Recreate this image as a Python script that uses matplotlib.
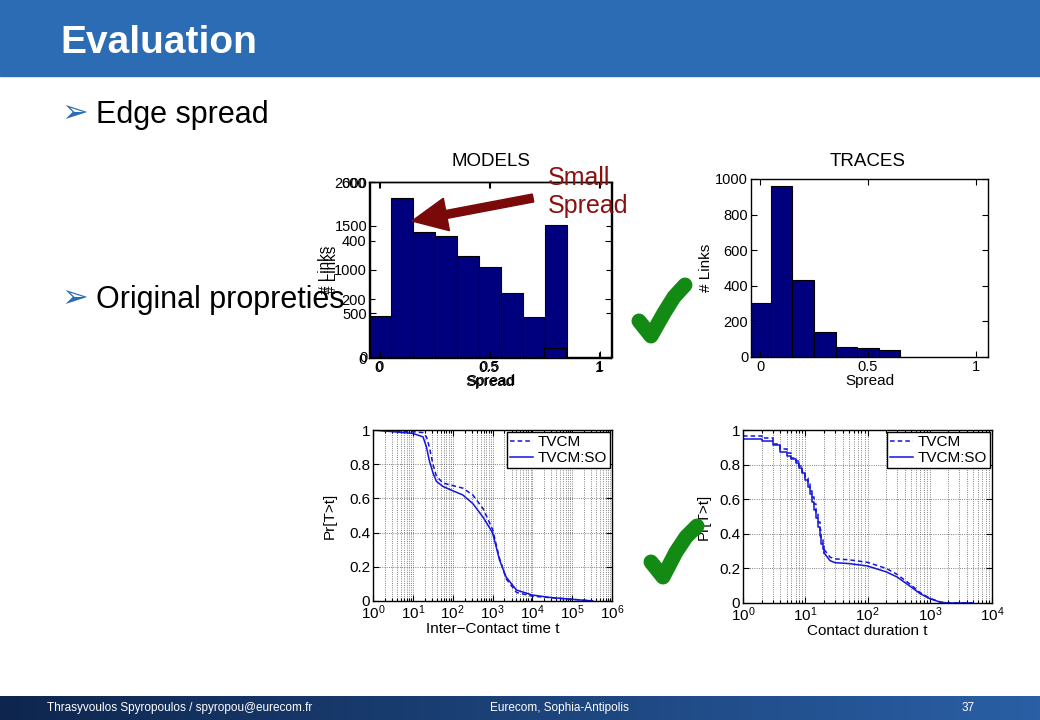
import matplotlib
matplotlib.use('Agg')
import matplotlib.pyplot as plt
import numpy as np
from matplotlib.patches import Rectangle, FancyArrow
from matplotlib.lines import Line2D
from matplotlib.ticker import LogLocator, NullFormatter

plt.rcParams['font.family'] = ['Liberation Sans', 'DejaVu Sans']
plt.rcParams['mathtext.default'] = 'regular'

# edge spread histograms (bin centres, counts)
model_bins = [0.0, 0.1, 0.2, 0.3, 0.4, 0.5, 0.6, 0.7, 0.8]
model_links = [470, 1815, 1432, 1383, 1159, 1034, 735, 458, 1511]
ghost_bins = [0.8]
ghost_links = [33]
trace_bins = [0.0, 0.1, 0.2, 0.3, 0.4, 0.5, 0.6]
trace_links = [305, 961, 431, 139, 54, 49, 41]
spread_ticks = [0, 0.5, 1]
spread_ticklabels = ['0', '0.5', '1']

# inter-contact time CCDF
ict_t = [1, 3.2, 10, 18, 22, 26, 32, 39, 57, 100, 180, 320, 580, 1000,
         1500, 2200, 4000, 1e4, 2.7e4, 1e5, 3.3e5]
ict_tvcm = [1.0, 0.995, 0.99, 0.985, 0.96, 0.90, 0.80, 0.73, 0.69, 0.675,
            0.66, 0.62, 0.54, 0.42, 0.25, 0.13, 0.05, 0.028, 0.02, 0.01, 0.0]
ict_so = [1.0, 0.99, 0.98, 0.96, 0.90, 0.82, 0.75, 0.70, 0.67, 0.645,
          0.62, 0.57, 0.49, 0.40, 0.24, 0.14, 0.064, 0.035, 0.021, 0.01, 0.0]

# contact duration CCDF: integer durations (steps) then tail
cd_t_step = list(range(1, 21))
cd_tvcm_step = [0.967, 0.955, 0.92, 0.89, 0.865, 0.84, 0.82, 0.79, 0.76, 0.72,
                0.685, 0.65, 0.61, 0.57, 0.52, 0.47, 0.42, 0.37, 0.34, 0.31]
cd_so_step = [0.948, 0.935, 0.913, 0.875, 0.85, 0.83, 0.81, 0.78, 0.75, 0.71,
              0.67, 0.63, 0.585, 0.54, 0.49, 0.44, 0.39, 0.34, 0.31, 0.29]
cd_t_tail = [20, 25, 30, 50, 100, 200, 300, 500, 700, 1000, 1500, 2000, 5000]
cd_tvcm_tail = [0.31, 0.265, 0.255, 0.25, 0.235, 0.2, 0.165, 0.105, 0.06,
                0.028, 0.005, 0.0, 0.0]
cd_so_tail = [0.29, 0.245, 0.233, 0.228, 0.214, 0.18, 0.15, 0.093, 0.054,
              0.025, 0.004, 0.0, 0.0]

pr_ticks = [0, 0.2, 0.4, 0.6, 0.8, 1]
pr_ticklabels = ['0', '0.2', '0.4', '0.6', '0.8', '1']

W, H = 1040, 720
BLUE = '#2b6cb5'
NAVY = '#00007f'
LINE = '#1414e0'
RED = '#8a1010'
GREEN = '#138a13'

fig = plt.figure(figsize=(10.4, 7.2), dpi=100)


def rect(l, t, r, b):
    return [l / W, 1 - b / H, (r - l) / W, (b - t) / H]


def style(ax, size=10.5):
    ax.tick_params(direction='in', top=True, right=True, which='both',
                   labelsize=size, length=4, width=0.8, pad=2)
    ax.tick_params(which='minor', length=2.5)
    for s in ax.spines.values():
        s.set_linewidth(1.0)


# header and footer
fig.add_artist(Rectangle((0, 1 - 76 / H), 1, 76 / H, transform=fig.transFigure,
                         color=BLUE, zorder=0))
fax = fig.add_axes([0, 0, 1, 24 / H])
c0 = np.array([14, 38, 78]) / 255
c1 = np.array([42, 95, 165]) / 255
grad = np.linspace(0, 1, 256)[None, :, None]
fax.imshow(c0 + (c1 - c0) * grad, aspect='auto', extent=[0, 1, 0, 1])
fax.axis('off')

fig.text(60 / W, 1 - 53 / H, 'Evaluation', color='white', fontsize=28,
         fontweight='bold', va='baseline')

foot = ['Liberation Sans Narrow', 'Liberation Sans']
fig.text(47 / W, 1 - 708 / H, 'Thrasyvoulos Spyropoulos / spyropou@eurecom.fr',
         color='white', fontsize=8.5, family=foot, va='center')
fig.text(490 / W, 1 - 708 / H, 'Eurecom, Sophia-Antipolis', color='white',
         fontsize=8.5, family=foot, va='center')
fig.text(962 / W, 1 - 708 / H, '37', color='white', fontsize=8.5,
         family=foot, va='center')

# MODELS histogram
ax1 = fig.add_axes(rect(370, 182, 612, 357))
ax1.bar(model_bins, model_links, width=0.1, color=NAVY, edgecolor='black', lw=0.8)
ax1.set_xlim(-0.045, 1.055)
ax1.set_ylim(0, 2000)
ax1.set_yticks([0, 500, 1000, 1500, 2000])
ax1.set_xticks(spread_ticks)
ax1.set_xticklabels(spread_ticklabels)
ax1.set_xlabel('Spread', fontsize=11, labelpad=0)
ax1.set_ylabel('# Links', fontsize=11, labelpad=2)
style(ax1)

# leftover overlapping axes in the slide
axg = fig.add_axes(rect(369, 182, 611, 358))
axg.patch.set_visible(False)
axg.bar(ghost_bins, ghost_links, width=0.1, color=NAVY, edgecolor='black', lw=0.8)
axg.set_xlim(-0.045, 1.055)
axg.set_ylim(0, 600)
axg.set_yticks([0, 200, 400, 600])
axg.set_xticks(spread_ticks)
axg.set_xticklabels(spread_ticklabels)
axg.set_xlabel('Spread', fontsize=11, labelpad=0)
axg.set_ylabel('# Links', fontsize=11, labelpad=2)
style(axg)

fig.text(491 / W, 1 - 162 / H, 'MODELS', fontsize=13.5, ha='center', va='center')

# TRACES histogram
ax2 = fig.add_axes(rect(751, 179, 988, 357))
ax2.bar(trace_bins, trace_links, width=0.1, color=NAVY, edgecolor='black', lw=0.8)
ax2.set_xlim(-0.042, 1.056)
ax2.set_ylim(0, 1000)
ax2.set_yticks([0, 200, 400, 600, 800, 1000])
ax2.set_xticks(spread_ticks)
ax2.set_xticklabels(spread_ticklabels)
ax2.set_xlabel('Spread', fontsize=11, labelpad=0)
ax2.set_ylabel('# Links', fontsize=11, labelpad=2)
style(ax2)
fig.text(868 / W, 1 - 162 / H, 'TRACES', fontsize=13.5, ha='center', va='center')


def ccdf_axes(ax, xmax, xlabel, ypad):
    ax.set_xscale('log')
    ax.set_xlim(1, xmax)
    ax.set_ylim(0, 1)
    ax.xaxis.set_major_locator(LogLocator(base=10, numticks=20))
    ax.xaxis.set_minor_locator(LogLocator(base=10, subs=np.arange(2, 10), numticks=20))
    ax.xaxis.set_minor_formatter(NullFormatter())
    ax.set_yticks(pr_ticks)
    ax.set_yticklabels(pr_ticklabels)
    ax.grid(True, which='both', axis='x', ls=':', color='0.35', lw=0.6)
    ax.grid(True, which='major', axis='y', ls=':', color='0.35', lw=0.6)
    ax.set_xlabel(xlabel, fontsize=11, labelpad=0)
    ax.set_ylabel('Pr[T>t]', fontsize=11, labelpad=ypad)
    style(ax, 11)
    leg = ax.legend(loc='upper right', fontsize=11, fancybox=False,
                    edgecolor='black', framealpha=1, borderaxespad=0.15,
                    handlelength=1.5, borderpad=0.2, labelspacing=0.1,
                    handletextpad=0.3)
    leg.get_frame().set_linewidth(1.0)


# inter-contact time
ax3 = fig.add_axes(rect(373, 430, 612, 601))
ax3.plot(ict_t, ict_tvcm, color=LINE, lw=1.1, dashes=(3, 2), label='TVCM')
ax3.plot(ict_t, ict_so, color=LINE, lw=1.1, label='TVCM:SO')
ccdf_axes(ax3, 1e6, 'Inter\u2212Contact time t', 9)

# contact duration
ax4 = fig.add_axes(rect(743, 430, 992, 603))
ax4.plot(cd_t_step, cd_tvcm_step, color=LINE, lw=1.1, dashes=(3, 2),
         drawstyle='steps-post', label='TVCM')
ax4.plot(cd_t_step, cd_so_step, color=LINE, lw=1.1, drawstyle='steps-post',
         label='TVCM:SO')
ax4.plot(cd_t_tail, cd_tvcm_tail, color=LINE, lw=1.1, dashes=(3, 2))
ax4.plot(cd_t_tail, cd_so_tail, color=LINE, lw=1.1)
ccdf_axes(ax4, 1e4, 'Contact duration t', 6)

# slide text on top of the charts
for y, label in [(123, 'Edge spread'), (308, 'Original propreties')]:
    fig.text(61 / W, 1 - (y - 1) / H, '\u27a2', family='DejaVu Sans', color=BLUE,
             fontsize=23, va='baseline')
    fig.text(96 / W, 1 - y / H, label, fontsize=22, va='baseline')

fig.text(548 / W, 1 - 213 / H, 'Small\nSpread', color=RED, fontsize=18,
         va='baseline', linespacing=1.2)
fig.add_artist(FancyArrow(5.33, (H - 198) / 100, -1.21, -0.23, width=0.08,
                          head_width=0.33, head_length=0.35,
                          length_includes_head=True, color='#7a0a0a',
                          transform=fig.dpi_scale_trans))


# green check marks drawn as thick brush strokes (pixel coords, y from top)
def check(pts, lw_px):
    xs = [p[0] / 100 for p in pts]
    ys = [(H - p[1]) / 100 for p in pts]
    fig.add_artist(Line2D(xs, ys, color=GREEN, lw=lw_px * 0.72,
                          solid_capstyle='round', solid_joinstyle='round',
                          transform=fig.dpi_scale_trans))


check([(639, 321), (651, 336), (664, 313), (674, 297), (685, 285)], 15)
check([(651, 562), (663, 577), (676, 552), (686, 537), (697, 526)], 15)

fig.savefig('out.png', dpi=100)
